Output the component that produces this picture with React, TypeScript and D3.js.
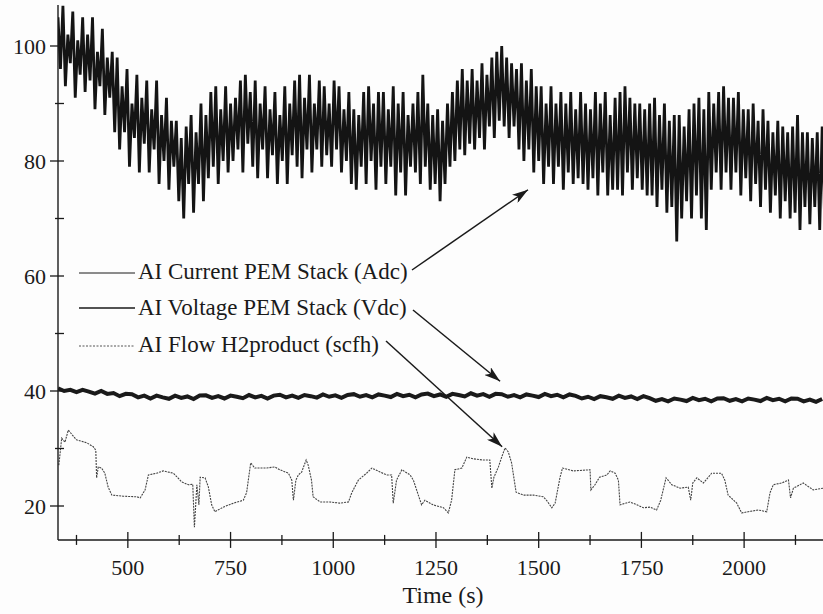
import React from "react";
import * as d3 from "d3";

// ---------- data ----------
const xTicksMajor = [500, 750, 1000, 1250, 1500, 1750, 2000];
const xTicksMinor = [375, 625, 875, 1125, 1375, 1625, 1875, 2125];
const yTicksMajor = [20, 40, 60, 80, 100];
const yTicksMinor = [30, 50, 70, 90];

const legendLabels = [
  "AI Current PEM Stack (Adc)",
  "AI Voltage PEM Stack (Vdc)",
  "AI Flow H2product (scfh)",
];

// current (Adc), sampled every 6 s from t = 330 s
const currentStart = 330;
const currentStep = 6;
const currentValues = [
  105, 96, 107, 93, 102, 97, 106, 91, 101, 95, 105, 92,
  102, 94, 105, 89, 99, 93, 103, 88, 98, 91, 99, 85,
  98, 82, 93, 85, 96, 79, 90, 84, 95, 78, 91, 83,
  94, 78, 89, 82, 94, 76, 88, 80, 91, 75, 87, 79,
  87, 73, 84, 70, 86, 76, 88, 71, 85, 76, 90, 73,
  88, 77, 92, 79, 93, 76, 89, 80, 93, 78, 90, 80,
  91, 82, 94, 78, 95, 83, 92, 79, 94, 77, 90, 82,
  93, 77, 89, 81, 92, 76, 88, 80, 93, 76, 90, 81,
  94, 79, 95, 77, 91, 82, 95, 78, 90, 82, 94, 79,
  93, 81, 90, 79, 94, 82, 93, 78, 89, 80, 92, 76,
  89, 75, 88, 79, 92, 76, 93, 80, 90, 75, 92, 79,
  92, 76, 89, 79, 93, 74, 90, 78, 92, 74, 88, 79,
  90, 78, 92, 76, 95, 79, 90, 75, 88, 76, 89, 73,
  87, 76, 90, 79, 92, 80, 94, 82, 96, 81, 94, 83,
  96, 82, 94, 84, 97, 82, 95, 86, 98, 84, 99, 87,
  100, 86, 98, 84, 97, 86, 96, 82, 97, 80, 94, 82,
  96, 78, 93, 80, 93, 76, 90, 79, 93, 76, 90, 79,
  92, 75, 90, 78, 92, 76, 89, 77, 92, 76, 90, 75,
  89, 77, 92, 74, 90, 78, 92, 74, 88, 75, 91, 75,
  92, 74, 93, 78, 91, 75, 90, 77, 90, 75, 89, 74,
  90, 74, 91, 72, 88, 75, 90, 71, 87, 72, 88, 66,
  88, 70, 86, 73, 89, 70, 90, 74, 91, 70, 89, 68,
  92, 75, 90, 78, 92, 75, 93, 78, 91, 75, 91, 78,
  92, 74, 89, 77, 89, 73, 90, 76, 87, 72, 89, 75,
  87, 71, 85, 74, 87, 70, 86, 73, 85, 70, 86, 71,
  88, 68, 85, 72, 85, 69, 84, 72, 85, 68, 86, 70,
];

// voltage (Vdc), sampled every 15 s from t = 330 s
const voltageStart = 330;
const voltageStep = 15;
const voltageValues = [
  40.45, 40.0, 40.2, 39.8, 40.2, 39.9, 39.55, 40.0, 39.5, 39.65, 39.1, 39.5,
  39.45, 38.9, 39.2, 38.7, 39.2, 38.9, 38.65, 39.2, 38.8, 39.05, 38.6, 39.2,
  39.25, 38.8, 39.1, 38.7, 39.2, 39.0, 38.75, 39.3, 38.9, 39.15, 38.7, 39.2,
  39.35, 38.9, 39.2, 38.8, 39.3, 39.1, 38.85, 39.4, 39.0, 39.25, 38.8, 39.3,
  39.45, 39.0, 39.3, 38.9, 39.4, 39.2, 38.95, 39.5, 39.1, 39.35, 38.9, 39.4,
  39.55, 39.1, 39.4, 39.0, 39.5, 39.3, 39.05, 39.6, 39.2, 39.45, 39.0, 39.5,
  39.45, 39.0, 39.3, 38.9, 39.4, 39.2, 38.95, 39.5, 39.1, 39.35, 38.9, 39.4,
  39.15, 38.7, 39.0, 38.6, 39.1, 38.9, 38.65, 39.2, 38.8, 39.05, 38.6, 39.1,
  38.75, 38.3, 38.6, 38.2, 38.7, 38.5, 38.25, 38.8, 38.4, 38.65, 38.2, 38.7,
  38.75, 38.3, 38.6, 38.2, 38.7, 38.5, 38.25, 38.8, 38.4, 38.65, 38.2, 38.7,
  38.65, 38.2, 38.5, 38.1, 38.6,
];

// H2 flow (scfh)
const flowTimes = [
  332, 339, 347, 355, 375, 400, 416, 422, 424, 428, 436, 444, 452, 461, 489, 522,
  530, 542, 550, 570, 586, 611, 631, 647, 658, 662, 668, 673, 676, 688, 696, 704,
  712, 732, 757, 781, 789, 799, 809, 838, 858, 870, 891, 899, 903, 909, 915, 923,
  934, 939, 947, 951, 968, 992, 1016, 1037, 1045, 1061, 1081, 1094, 1114, 1130, 1142, 1146,
  1154, 1167, 1187, 1195, 1207, 1215, 1223, 1243, 1268, 1280, 1288, 1296, 1313, 1325, 1341, 1365,
  1381, 1386, 1391, 1402, 1410, 1418, 1426, 1434, 1445, 1463, 1487, 1511, 1519, 1532, 1540, 1552,
  1558, 1584, 1625, 1627, 1637, 1648, 1666, 1674, 1686, 1694, 1698, 1722, 1739, 1755, 1771, 1787,
  1797, 1810, 1824, 1844, 1864, 1870, 1875, 1885, 1901, 1921, 1945, 1953, 1961, 1982, 1994, 2010,
  2035, 2055, 2063, 2071, 2091, 2108, 2113, 2120, 2144, 2168, 2192,
];
const flowValues = [
  27.1, 31.8, 31.1, 33.2, 31.5, 31.0, 30.3, 29.7, 24.9, 26.8, 26.6, 25.7, 23.3, 21.9, 21.7, 21.6,
  21.4, 22.8, 25.4, 25.7, 26.1, 25.7, 24.2, 23.7, 23.8, 16.3, 23.7, 20.2, 25.0, 24.9, 23.3, 20.2,
  19.0, 19.8, 20.5, 21.0, 22.3, 27.5, 26.6, 26.6, 26.8, 26.3, 25.7, 24.5, 21.0, 24.5, 25.4, 25.9,
  28.0, 27.1, 24.5, 21.6, 20.7, 20.7, 20.5, 20.7, 22.3, 24.5, 25.7, 26.6, 25.9, 25.4, 25.4, 20.5,
  24.5, 26.3, 25.4, 24.5, 21.9, 20.2, 21.0, 20.2, 19.7, 18.8, 21.0, 26.3, 26.6, 28.5, 28.2, 28.0,
  28.0, 23.1, 25.0, 26.8, 28.5, 30.1, 29.4, 27.5, 22.4, 21.9, 21.9, 21.6, 21.0, 19.7, 20.5, 25.0,
  26.6, 26.1, 26.3, 22.8, 23.7, 25.0, 25.4, 26.1, 25.7, 24.5, 20.2, 20.7, 20.2, 19.7, 19.8, 19.3,
  21.0, 24.9, 23.7, 23.1, 23.3, 21.0, 24.0, 24.9, 24.0, 25.7, 25.7, 24.5, 21.9, 20.5, 18.8, 19.0,
  19.3, 19.0, 22.3, 23.7, 24.0, 24.5, 21.4, 23.1, 24.0, 22.8, 23.1,
];

// annotation arrows: tips at (time, value) near each series
const arrowTargets = [
  { t: 1474, v: 75.0 },
  { t: 1406, v: 41.7 },
  { t: 1411, v: 30.3 },
];

// ---------- chart ----------
const W = 823;
const H = 614;
const FONT = "'Liberation Serif', 'Times New Roman', serif";
const INK = "#1a1a1a";

export default function App() {
  const x = d3.scaleLinear().domain([330, 2192]).range([58, 823]);
  const y = d3.scaleLinear().domain([20, 100]).range([506, 46]);
  const axisY = y(14.1);
  const axisX = x(330);

  const currentData = currentValues.map((v, i) => [currentStart + i * currentStep, v] as [number, number]);
  const voltageData = voltageValues.map((v, i) => [voltageStart + i * voltageStep, v] as [number, number]);
  const flowData = flowTimes.map((t, i) => [t, flowValues[i]] as [number, number]);

  const line = d3
    .line<[number, number]>()
    .x((d) => x(d[0]))
    .y((d) => y(d[1]));

  const legendX0 = 79;
  const legendX1 = 135;
  const legendTextX = 138;
  const legendBase = [279, 315, 352];
  const legendLineY = [273, 308, 346];
  const legendStyles = [
    { w: 1, dash: "" },
    { w: 1.4, dash: "" },
    { w: 1, dash: "2 1.5" },
  ];
  const arrowStarts = [
    [412, 270],
    [413, 310],
    [386, 341],
  ];

  return (
    <div style={{ position: "absolute", left: 0, top: 0 }}>
      <svg width={W} height={H} style={{ display: "block", background: "#fdfdfd" }}>
        <defs>
          <clipPath id="plot">
            <rect x={axisX} y={0} width={W - axisX} height={axisY} />
          </clipPath>
          <marker
            id="arrow"
            viewBox="0 0 16 10"
            refX={16}
            refY={5}
            markerWidth={16}
            markerHeight={10}
            markerUnits="userSpaceOnUse"
            orient="auto"
          >
            <path d="M0,0 L16,5 L0,10 L4,5 Z" fill={INK} />
          </marker>
        </defs>

        <g clipPath="url(#plot)">
          <path d={line(currentData) || ""} fill="none" stroke="#141414" strokeWidth={2.8} />
          <path d={line(voltageData) || ""} fill="none" stroke={INK} strokeWidth={4} />
          <path d={line(flowData) || ""} fill="none" stroke="#444" strokeWidth={1.1} strokeDasharray="2 1" />
        </g>

        {/* axes */}
        <line x1={axisX} x2={axisX} y1={5} y2={axisY} stroke={INK} strokeWidth={1.4} />
        <line x1={axisX} x2={W} y1={axisY} y2={axisY} stroke={INK} strokeWidth={1.4} />

        {yTicksMajor.map((v) => (
          <g key={"ym" + v}>
            <line x1={axisX - 8} x2={axisX + 6} y1={y(v)} y2={y(v)} stroke={INK} strokeWidth={1.3} />
            <text x={46} y={y(v) + 7.5} textAnchor="end" fontFamily={FONT} fontSize={22} fill={INK}>
              {v}
            </text>
          </g>
        ))}
        {yTicksMinor.map((v) => (
          <line key={"yn" + v} x1={axisX - 3} x2={axisX + 6} y1={y(v)} y2={y(v)} stroke={INK} strokeWidth={1.3} />
        ))}

        {xTicksMajor.map((t) => (
          <g key={"xm" + t}>
            <line x1={x(t)} x2={x(t)} y1={axisY - 8} y2={axisY + 8} stroke={INK} strokeWidth={1.3} />
            <text x={x(t)} y={575} textAnchor="middle" fontFamily={FONT} fontSize={22} fill={INK}>
              {t}
            </text>
          </g>
        ))}
        {xTicksMinor.map((t) => (
          <line key={"xn" + t} x1={x(t)} x2={x(t)} y1={axisY - 5} y2={axisY + 5} stroke={INK} strokeWidth={1.3} />
        ))}

        <text x={443} y={603} textAnchor="middle" fontFamily={FONT} fontSize={24} fill={INK}>
          Time (s)
        </text>

        {/* legend */}
        {legendLabels.map((label, i) => (
          <g key={label}>
            <line
              x1={legendX0}
              x2={legendX1}
              y1={legendLineY[i]}
              y2={legendLineY[i]}
              stroke={i === 2 ? "#555" : INK}
              strokeWidth={legendStyles[i].w}
              strokeDasharray={legendStyles[i].dash}
            />
            <text x={legendTextX} y={legendBase[i]} fontFamily={FONT} fontSize={23} fill={INK}>
              {label}
            </text>
          </g>
        ))}

        {/* arrows */}
        {arrowTargets.map((a, i) => (
          <line
            key={"arr" + i}
            x1={arrowStarts[i][0]}
            y1={arrowStarts[i][1]}
            x2={x(a.t)}
            y2={y(a.v)}
            stroke={INK}
            strokeWidth={1.5}
            markerEnd="url(#arrow)"
          />
        ))}
      </svg>
    </div>
  );
}
